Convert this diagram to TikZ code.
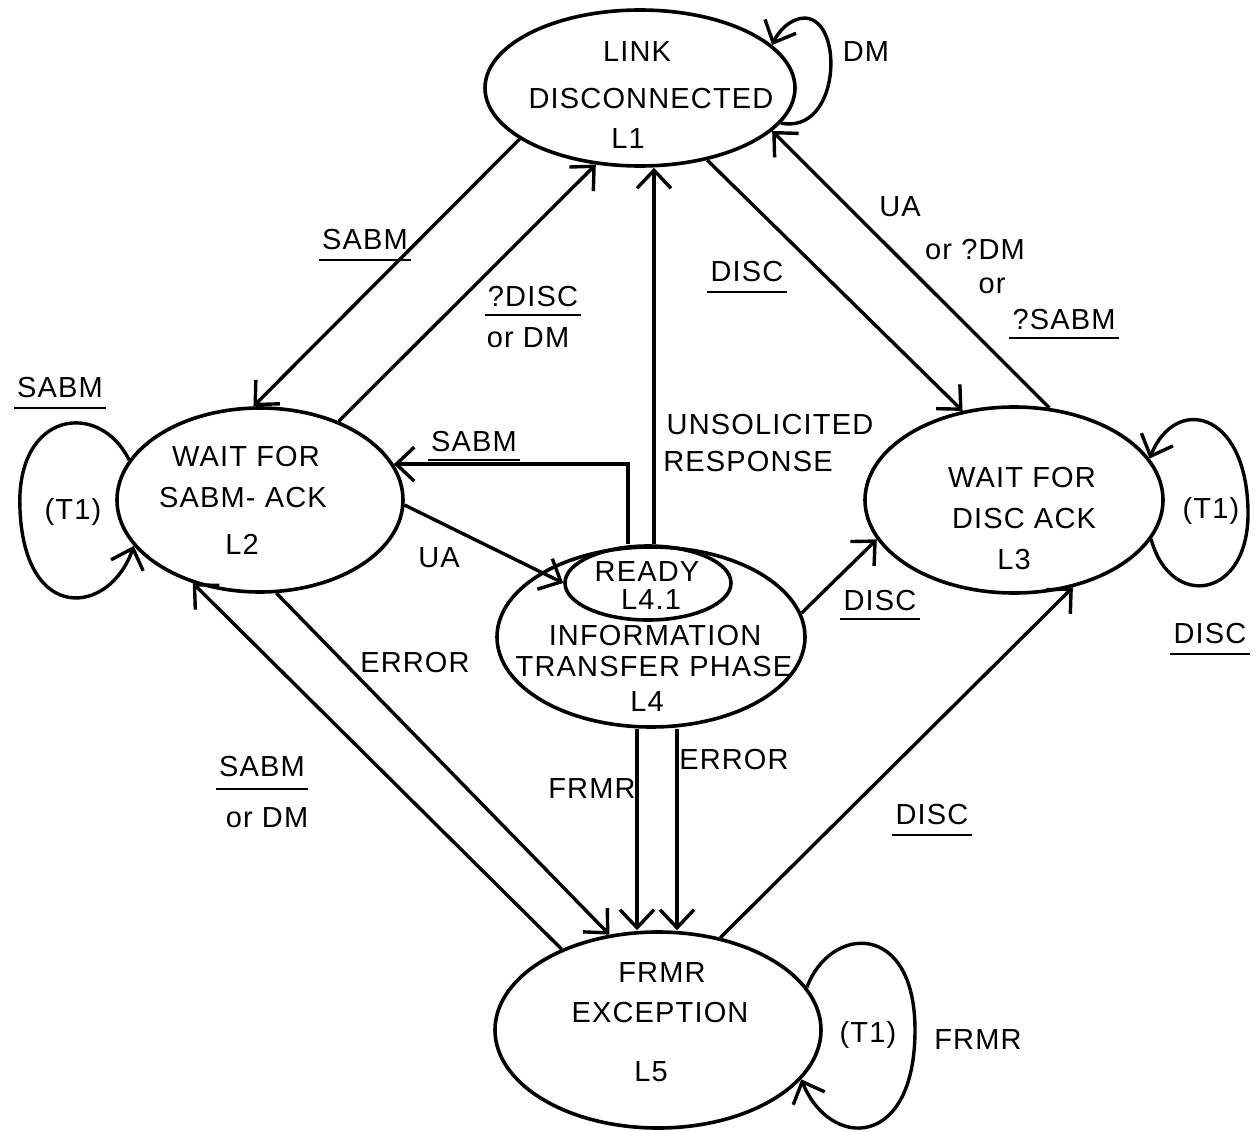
\documentclass[tikz,border=0pt]{standalone}
\usepackage{fontspec}
\setmainfont{Liberation Sans}[LetterSpace=4.0]
\usetikzlibrary{shapes.geometric,arrows.meta}
\begin{document}
\begin{tikzpicture}[x=1pt,y=-1pt,
  st/.style={draw,ellipse,line width=3.6pt,inner sep=0pt},
  arr/.style={line width=3.4pt,-{Straight Barb[length=18pt,width=34pt]}},
  lab/.style={font=\fontsize{29}{33}\selectfont,inner sep=1pt},
  ul/.style={lab,inner xsep=3pt,append after command={([yshift=-#1]\tikzlastnode.base west) edge[line width=2.8pt] ([yshift=-#1]\tikzlastnode.base east)}},
  ul/.default=10pt]
\useasboundingbox (0,0) rectangle (1256,1132);

% states
\node[st,minimum width=310pt,minimum height=156pt] (L1) at (640,88) {};
\node[st,minimum width=286pt,minimum height=184pt] (L2) at (260,500) {};
\node[st,minimum width=308pt,minimum height=180pt] (L4) at (651,637) {};
\node[st,minimum width=166pt,minimum height=74pt] (L41) at (648,583) {};
\node[st,minimum width=298pt,minimum height=186pt] (L3) at (1014,500) {};
\node[st,minimum width=326pt,minimum height=196pt] (L5) at (658,1030) {};

% helper x positions
\coordinate (uu) at (654,0);
\coordinate (sb) at (628,0);
\coordinate (ff) at (637,0);
\coordinate (ee) at (677,0);

% connectors
\draw[arr] (L1.203) -- (L2.94);
\draw[arr] (L2.45) -- (L1.-120);
\draw[arr] (uu |- L41.north) -- (uu |- L1.south);
\draw[arr] (L1.-47) -- (L3.120);
\draw[arr] (L3.69) -- (L1.-18);
\draw[arr] (sb |- L41.north) |- (L2.15);
\draw[arr] (L2.-2) -- (L41.west);
\draw[arr] (L4.9) -- (L3.196);
\draw[arr] (L5.56) -- (L3.-56);
\draw[arr] (L5.140) -- (L2.231);
\draw[arr] (L2.-80) -- (L5.117);
\draw[arr] (ff |- L4.south) -- (ff |- L5.north);
\draw[arr] (ee |- L4.south) -- (ee |- L5.north);

% self loops
\draw[arr] (L1.-14) .. controls (840,135) and (845,20) .. (805,18) .. controls (790,18) and (778,32) .. (L1.18);
\draw[arr] (L2.163) .. controls (100,400) and (15,410) .. (20,510) .. controls (25,625) and (110,615) .. (L2.200);
\draw[arr] (L3.-16) .. controls (1170,610) and (1250,600) .. (1248,510) .. controls (1246,410) and (1175,395) .. (L3.17);
\draw[arr] (L5.16) .. controls (830,925) and (915,920) .. (915,1030) .. controls (915,1150) and (830,1150) .. (L5.-19);

% state texts
\node[lab] (t1a) at (637,52) {LINK};
\node[lab] (t1b) at (651,99) {DISCONNECTED};
\node[lab] (t1c) at (628,139) {L1};
\node[lab] (t2a) at (246,457) {WAIT FOR};
\node[lab] (t2b) at (243,498) {SABM- ACK};
\node[lab] (t2c) at (242,544) {L2};
\node[lab] (t41a) at (647,572) {READY};
\node[lab] (t41b) at (651,600) {L4.1};
\node[lab] (t4a) at (655,636) {INFORMATION};
\node[lab] (t4b) at (654,667) {TRANSFER PHASE};
\node[lab] (t4c) at (647,702) {L4};
\node[lab] (t3a) at (1022,478) {WAIT FOR};
\node[lab] (t3b) at (1024,519) {DISC ACK};
\node[lab] (t3c) at (1014,560) {L3};
\node[lab] (t5a) at (662,973) {FRMR};
\node[lab] (t5b) at (660,1013) {EXCEPTION};
\node[lab] (t5c) at (651,1072) {L5};

% loop labels
\node[lab] (dm) at (866,52) {DM};
\node[ul] (lsab) at (60,388) {SABM};
\node[lab] (lt1) at (73,512) {(T1)};
\node[lab] (rt1) at (1211,511) {(T1)};
\node[ul] (rdisc) at (1210,634) {DISC};
\node[lab] (bt1) at (868,1035) {(T1)};
\node[lab] (bfrmr) at (978,1040) {FRMR};

% transition labels
\node[ul] (e1) at (365,240) {SABM};
\node[ul=8pt] (e2a) at (533,297) {?DISC};
\node[lab] (e2b) at (528,338) {or DM};
\node[lab] (e3a) at (770,425) {UNSOLICITED};
\node[lab] (e3b) at (748,462) {RESPONSE};
\node[ul] (e4) at (747,272) {DISC};
\node[lab] (e5a) at (900,207) {UA};
\node[lab] (e5b) at (975,250) {or ?DM};
\node[lab] (e5c) at (992,286) {or};
\node[ul=8pt] (e5d) at (1064,320) {?SABM};
\node[ul=8pt] (e6) at (474,442) {SABM};
\node[lab] (e7) at (439,558) {UA};
\node[ul=8pt] (e8) at (880,601) {DISC};
\node[lab] (e11) at (415,663) {ERROR};
\node[lab] (e12) at (592,789) {FRMR};
\node[lab] (e13) at (734,760) {ERROR};
\node[ul] (e9) at (932,815) {DISC};
\node[ul=12pt] (e10a) at (262,767) {SABM};
\node[lab] (e10b) at (267,818) {or DM};
\end{tikzpicture}
\end{document}
